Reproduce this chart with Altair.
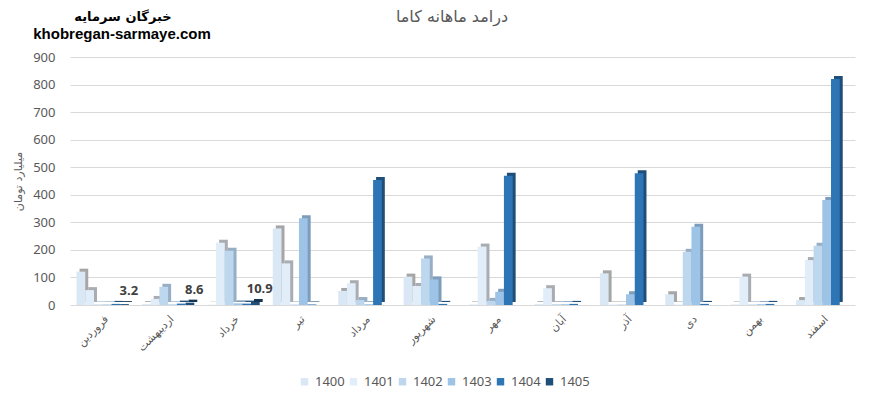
import altair as alt
import pandas as pd

months = ["فروردین", "اردیبهشت", "خرداد", "تیر", "مرداد", "شهریور",
          "مهر", "آبان", "آذر", "دی", "بهمن", "اسفند"]
years = ["1400", "1401", "1402", "1403", "1404", "1405"]

v1400 = [121, 3, 1, 278, 51, 103, 2, 3, 115, 39, 2, 18]
v1401 = [54, 22, 226, 151, 79, 69, 212, 61, 2, 2, 103, 163]
v1402 = [2, 66, 197, 2, 18, 169, 15, 3, 2, 193, 2, 215]
v1403 = [2, 2, 6, 315, 3, 93, 48, 3, 39, 284, 3, 381]
v1404 = [4, 5, 5, 2, 454, 4, 469, 4, 478, 4, 4, 820]
v1405 = [3.2, 8.6, 10.9]

front_colors = ["#DAE7F5", "#E1EDF8", "#BDD7EE", "#9DC3E6", "#2E75B6", "#1F4E79"]
side_colors = ["#A6A6A6", "#A9ADB2", "#98AEC4", "#7D9DBB", "#1F4E79", "#143452"]

title_text = "درامد ماهانه کاما"
brand_text = "خبرگان سرمایه"
site_text = "khobregan-sarmaye.com"

series = [v1400, v1401, v1402, v1403, v1404, v1405]
rows = []
for yi, (yr, vals) in enumerate(zip(years, series)):
    for mi, v in enumerate(vals):
        rows.append({"month": months[mi], "series": yr, "value": v,
                     "side": side_colors[yi]})
df = pd.DataFrame(rows)
labels_df = df[df["series"] == "1405"].copy()
labels_df["label"] = labels_df["value"].map(lambda v: f"{v:.1f}")

W, H = 785, 248
p_in, p_out = 0.2, 0.1
step = W / (len(months) - p_in + 2 * p_out)
bw = step * (1 - p_in)
depth = 3

xenc = alt.X("month:N", sort=months,
             scale=alt.Scale(paddingInner=p_in, paddingOuter=p_out),
             axis=alt.Axis(title=None, labelAngle=-45, labelFont="DejaVu Sans",
                           labelFontSize=11, labelColor="#595959", domain=False,
                           ticks=False, labelPadding=8))
yenc = alt.Y("value:Q", scale=alt.Scale(domain=[0, 900], nice=False),
             axis=alt.Axis(title="میلیارد تومان", titleFont="DejaVu Sans",
                           titleFontSize=11, titleFontWeight="normal",
                           titleColor="#595959", titleAngle=270,
                           titleX=-52, titleY=H / 2, titleAlign="center",
                           titleBaseline="middle",
                           values=list(range(0, 901, 100)), labelFontSize=13,
                           labelColor="#595959", labelFont="Noto Sans",
                           domain=False, ticks=False, tickSize=0, labelPadding=15,
                           gridColor="#D9D9D9", gridWidth=1))

behind = alt.Chart(df).mark_bar(yOffset=-depth).encode(
    x=xenc, y=yenc,
    xOffset=alt.XOffset("series:N", scale=alt.Scale(domain=years, range=[depth, bw + depth],
                                                    paddingInner=0, paddingOuter=0)),
    color=alt.Color("side:N", scale=None, legend=None),
)

front = alt.Chart(df).mark_bar().encode(
    x=xenc, y=yenc,
    xOffset=alt.XOffset("series:N", scale=alt.Scale(domain=years, range=[0, bw],
                                                    paddingInner=0, paddingOuter=0)),
    color=alt.Color("series:N", scale=alt.Scale(domain=years, range=front_colors),
                    legend=alt.Legend(title=None, orient="none", direction="horizontal",
                                      legendX=228, legendY=318, symbolType="square",
                                      symbolSize=55, symbolStrokeWidth=0,
                                      labelFontSize=13, labelColor="#595959",
                                      labelFont="Noto Sans", columnPadding=2,
                                      labelOffset=4, symbolOffset=0)),
)

texts = alt.Chart(labels_df).mark_text(baseline="bottom", dy=-6, fontSize=13,
                                       fontWeight="bold", color="#404040",
                                       font="Noto Sans").encode(
    x=xenc, y=yenc,
    xOffset=alt.XOffset("series:N", scale=alt.Scale(domain=years, range=[0, bw],
                                                    paddingInner=0, paddingOuter=0)),
    text="label:N",
)

title_df = pd.DataFrame({"t": [title_text]})
brand_df = pd.DataFrame({"t": [brand_text]})
site_df = pd.DataFrame({"t": [site_text]})
title = alt.Chart(title_df).mark_text(fontSize=16, color="#595959",
                                      font="DejaVu Sans").encode(
    x=alt.value(382), y=alt.value(-40), text="t:N")
brand = alt.Chart(brand_df).mark_text(fontSize=13, fontWeight="bold", color="#000000",
                                      font="DejaVu Sans").encode(
    x=alt.value(53), y=alt.value(-40), text="t:N")
site = alt.Chart(site_df).mark_text(fontSize=15, fontWeight="bold", color="#000000",
                                    font="Liberation Sans").encode(
    x=alt.value(52), y=alt.value(-23), text="t:N")

chart = alt.layer(behind, front, texts, title, brand, site).resolve_scale(
    xOffset="independent", color="independent"
).properties(
    width=W, height=H,
    autosize=alt.AutoSizeParams(type="none"),
    padding={"left": 62, "top": 49, "right": 22, "bottom": 89},
).configure_view(stroke=None)

chart.save("out.html", embed_options={"renderer": "svg", "actions": False})
